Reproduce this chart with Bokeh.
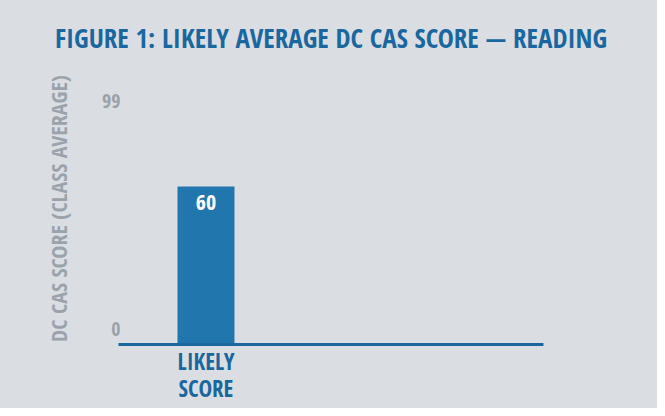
from bokeh.plotting import figure
from bokeh.models import ColumnDataSource, LabelSet, Range1d, FixedTicker, LinearAxis
from bokeh.core.properties import value
from bokeh.embed import file_html
from bokeh.resources import INLINE

# ---- data ----
categories = ["LIKELY SCORE"]
scores = [60]
y_ticks = [0, 99]
y_tick_labels = ["0", "99"]

FONT = "Open Sans Condensed"
BG = "#dadee3"
BLUE_TXT = "#1a67a0"
BAR = "#2176ae"
LINE = "#1a67a0"
GRAY = "#9aa3ab"

xs = list(range(len(categories)))
src = ColumnDataSource(dict(x=xs, y=scores, lbl=[str(v) for v in scores]))

x_start, x_end = -0.921, 3.553
p = figure(width=657, height=408, output_backend="svg", toolbar_location=None,
           x_range=Range1d(x_start, x_end), y_range=Range1d(0, 103.3),
           min_border_left=118, min_border_right=114, min_border_top=72,
           min_border_bottom=64)
p.styles = {"background-color": BG}
p.background_fill_color = BG
p.border_fill_color = BG
p.outline_line_color = None
p.grid.grid_line_color = None

p.title.text = "FIGURE 1: LIKELY AVERAGE DC CAS SCORE \u2014 READING"
p.title.align = "center"
p.title.text_font = FONT
p.title.text_font_size = "27px"
p.title.text_font_style = "bold"
p.title.text_color = BLUE_TXT
p.title.standoff = 33

p.vbar(x="x", top="y", width=0.6, source=src, color=BAR, line_color=None)

val_labels = LabelSet(x="x", y="y", text="lbl", source=src, text_align="center",
                      text_baseline="top", y_offset=-8, text_color="white",
                      text_font=value(FONT), text_font_style="bold",
                      text_font_size="22px")
p.add_layout(val_labels)

# x axis: first word on the main axis, rest on a second axis below it
line1 = {x: c.split(" ", 1)[0] for x, c in zip(xs, categories)}
line2 = {x: (c.split(" ", 1) + [""])[1] for x, c in zip(xs, categories)}

def style_x(ax, overrides, standoff):
    ax.ticker = FixedTicker(ticks=xs)
    ax.major_label_overrides = overrides
    ax.major_label_text_font = FONT
    ax.major_label_text_font_size = "23px"
    ax.major_label_text_font_style = "bold"
    ax.major_label_text_color = BLUE_TXT
    ax.major_tick_line_color = None
    ax.minor_tick_line_color = None
    ax.major_label_standoff = standoff

ax1 = p.xaxis[0]
style_x(ax1, line1, -6)
ax1.axis_line_color = LINE
ax1.axis_line_width = 3

ax2 = LinearAxis()
style_x(ax2, line2, -14)
ax2.axis_line_color = None
p.add_layout(ax2, "below")

# y axis
p.yaxis.ticker = FixedTicker(ticks=y_ticks)
p.yaxis.major_label_overrides = {0: y_tick_labels[0] + "\n", 99: "\n" + y_tick_labels[1]}
p.yaxis.major_label_text_baseline = "middle"
p.yaxis.major_label_text_font = FONT
p.yaxis.major_label_text_font_size = "20px"
p.yaxis.major_label_text_font_style = "bold"
p.yaxis.major_label_text_color = GRAY
p.yaxis.major_label_standoff = -8
p.yaxis.major_tick_line_color = None
p.yaxis.minor_tick_line_color = None
p.yaxis.axis_line_color = None
p.yaxis.axis_label = "DC CAS SCORE (CLASS AVERAGE)"
p.yaxis.axis_label_text_font = FONT
p.yaxis.axis_label_text_font_size = "22px"
p.yaxis.axis_label_text_font_style = "bold"
p.yaxis.axis_label_text_color = GRAY
p.yaxis.axis_label_standoff = 26

open("out.html", "w").write(file_html(p, INLINE))
